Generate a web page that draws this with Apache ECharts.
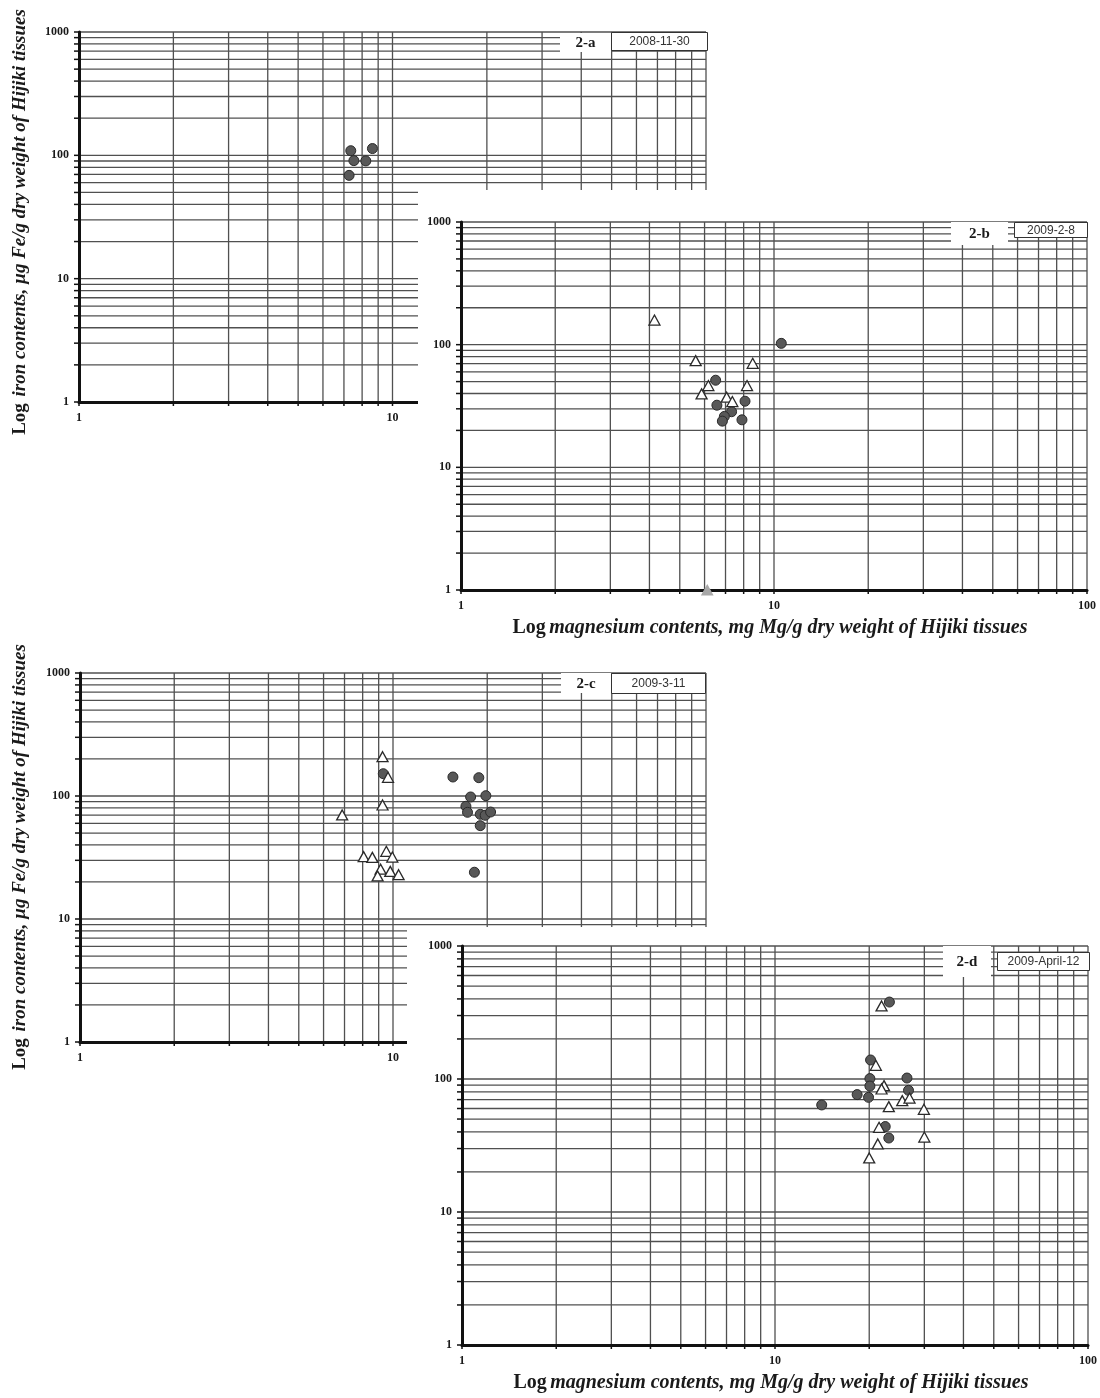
<!DOCTYPE html>
<html><head><meta charset="utf-8">
<script src="https://cdn.jsdelivr.net/npm/echarts@6/dist/echarts.min.js"></script>
<style>html,body{margin:0;padding:0;background:#fff}#c{width:1100px;height:1398px}</style>
</head><body><div id="c"></div>
<script>
// ---- data ----
const xTickLabels = [1, 10, 100];
const yTickLabels = [1, 10, 100, 1000];
const panelIds = ['2-a', '2-b', '2-c', '2-d'];
const panelDates = ['2008-11-30', '2009-2-8', '2009-3-11', '2009-April-12'];
const xTitle = 'magnesium contents, mg Mg/g dry weight of Hijiki tissues';
const yTitle = 'iron contents, \u00b5g Fe/g dry weight of Hijiki tissues';

// [Mg mg/g, Fe ug/g]
const aCircles = [[7.36,109],[8.63,113.5],[7.53,90.6],[8.22,90.1],[7.27,68.8]];
const aTriangles = [];
const aGreyTriangles = [];

const bCircles = [[10.55,102.5],[6.51,51.3],[6.57,32.1],[8.08,34.6],[7.32,28.4],[6.94,26.0],[6.84,23.8],[7.90,24.4]];
const bTriangles = [[4.15,158.8],[5.62,74.1],[8.55,70.5],[6.17,46.4],[5.87,39.7],[8.20,46.4],[7.06,37.3],[7.36,34.4]];
const bGreyTriangles = [[6.12,1]];

const cCircles = [[9.31,151.8],[15.54,142.7],[18.8,140.9],[17.7,98.2],[19.8,100.6],[17.1,82.5],[17.3,73.7],[19.0,71.0],[19.7,69.7],[20.5,74.1],[19.0,57.4],[18.2,24.0]];
const cTriangles = [[9.26,208.7],[9.64,141.8],[9.26,84.5],[6.88,70.1],[8.06,32.1],[8.59,31.7],[9.52,35.5],[9.95,31.9],[9.13,25.4],[8.93,22.4],[9.8,24.4],[10.42,22.9]];
const cGreyTriangles = [];

const dCircles = [[23.2,379],[20.2,139],[20.1,100.7],[20.1,88.5],[26.4,101.7],[26.7,82.2],[18.3,76.3],[19.9,72.8],[14.1,63.8],[22.5,43.9],[23.1,36.0]];
const dTriangles = [[21.9,354],[21.0,126.8],[22.3,89.2],[21.9,84.1],[25.5,68.8],[26.9,71.9],[23.1,62.0],[29.9,59.2],[21.5,43.3],[21.3,32.5],[30.0,36.6],[20.0,25.5]];
const dGreyTriangles = [];

// ---- layout ----
const panels = [
  {grid:{left:79,top:32,width:627,height:370}, z:1,  circles:aCircles, tris:aTriangles, grey:aGreyTriangles,
   idBox:[560,33,51,19], dateBox:[611,32,97,19], xTitle:false},
  {grid:{left:461,top:222,width:626,height:368}, z:10, circles:bCircles, tris:bTriangles, grey:bGreyTriangles,
   idBox:[951,222,57,23], dateBox:[1014,222,74,16], xTitle:true, cover:[418,190,682,420]},
  {grid:{left:80,top:673,width:626,height:369}, z:20, circles:cCircles, tris:cTriangles, grey:cGreyTriangles,
   idBox:[561,673,50,20], dateBox:[611,673,95,21], xTitle:false},
  {grid:{left:462,top:946,width:626,height:399}, z:30, circles:dCircles, tris:dTriangles, grey:dGreyTriangles,
   idBox:[943,946,48,31], dateBox:[997,952,93,19], xTitle:true, cover:[407,927,693,471]}
];

// grid line values for log decades (1..9 x 10^k)
function logLines(maxExp){
  const out=[];
  for(let e=0;e<maxExp;e++){ for(let m=1;m<=9;m++){ out.push(m*Math.pow(10,e)); } }
  out.push(Math.pow(10,maxExp));
  return out;
}
const xLines = logLines(2);
const yLines = logLines(3);

const serif = '"Liberation Serif","Times New Roman",serif';
const grids=[], xAxes=[], yAxes=[], series=[], graphics=[];
const gridColor = '#505050', gridWidth = 1.3;

panels.forEach((p,i)=>{
  const z=p.z;
  if(p.cover){
    graphics.push({type:'rect', z:z-1, shape:{x:p.cover[0],y:p.cover[1],width:p.cover[2],height:p.cover[3]}, style:{fill:'#fff'}, silent:true});
  }
  grids.push(Object.assign({containLabel:false}, p.grid));
  const axCommon = {
    type:'log', logBase:10, gridIndex:i, z:z+2,
    splitLine:{show:false}, axisTick:{show:false}, minorTick:{show:false},
    axisLabel:{fontFamily:serif, fontWeight:'bold', fontSize:12, color:'#1a1a1a', margin:10},
  };
  xAxes.push(Object.assign({}, axCommon, {min:1,max:100, position:'bottom',
    axisLine:{show:true,onZero:false,lineStyle:{color:'#111',width:3}},
    axisLabel:Object.assign({},axCommon.axisLabel,{formatter:v=>xTickLabels.indexOf(Math.round(v))>=0?String(Math.round(v)):''})}));
  yAxes.push(Object.assign({}, axCommon, {min:1,max:1000, position:'left',
    axisLine:{show:true,onZero:false,lineStyle:{color:'#111',width:3}},
    axisLabel:Object.assign({},axCommon.axisLabel,{formatter:v=>yTickLabels.indexOf(Math.round(v))>=0?String(Math.round(v)):''})}));

  // horizontal grid lines (skip the axis at 1)
  series.push({type:'custom', xAxisIndex:i, yAxisIndex:i, z:z, silent:true, clip:false,
    data: yLines.filter(v=>v>1).map(v=>[1,v]),
    renderItem:(params,api)=>{
      const cs=params.coordSys; const pt=api.coord([api.value(0),api.value(1)]);
      return {type:'line', shape:{x1:cs.x,y1:pt[1],x2:cs.x+cs.width,y2:pt[1]}, style:{stroke:gridColor,lineWidth:gridWidth}};
    }});
  // vertical grid lines
  series.push({type:'custom', xAxisIndex:i, yAxisIndex:i, z:z, silent:true, clip:false,
    data: xLines.filter(v=>v>1).map(v=>[v,1]),
    renderItem:(params,api)=>{
      const cs=params.coordSys; const pt=api.coord([api.value(0),api.value(1)]);
      return {type:'line', shape:{x1:pt[0],y1:cs.y,x2:pt[0],y2:cs.y+cs.height}, style:{stroke:gridColor,lineWidth:gridWidth}};
    }});
  // y ticks
  series.push({type:'custom', xAxisIndex:i, yAxisIndex:i, z:z+2, silent:true, clip:false,
    data: yLines.map(v=>[1,v]),
    renderItem:(params,api)=>{
      const pt=api.coord([api.value(0),api.value(1)]);
      return {type:'line', shape:{x1:pt[0]-5,y1:pt[1],x2:pt[0],y2:pt[1]}, style:{stroke:'#111',lineWidth:1.5}};
    }});
  // x ticks
  series.push({type:'custom', xAxisIndex:i, yAxisIndex:i, z:z+2, silent:true, clip:false,
    data: xLines.map(v=>[v,1]),
    renderItem:(params,api)=>{
      const pt=api.coord([api.value(0),api.value(1)]);
      return {type:'line', shape:{x1:pt[0],y1:pt[1],x2:pt[0],y2:pt[1]+4}, style:{stroke:'#111',lineWidth:1.5}};
    }});
  // points
  series.push({type:'scatter', xAxisIndex:i, yAxisIndex:i, z:z+3, data:p.circles, symbol:'circle', symbolSize:10,
    itemStyle:{color:'#585858', borderColor:'#2a2a2a', borderWidth:1, opacity:1}, silent:true});
  series.push({type:'scatter', xAxisIndex:i, yAxisIndex:i, z:z+3, data:p.tris, symbol:'triangle', symbolSize:[11,10],
    itemStyle:{color:'#fff', borderColor:'#2a2a2a', borderWidth:1.3, opacity:1}, silent:true});
  series.push({type:'scatter', xAxisIndex:i, yAxisIndex:i, z:z+3, data:p.grey, symbol:'triangle', symbolSize:[11,10],
    itemStyle:{color:'#a8a8a8', borderColor:'#a8a8a8', borderWidth:1, opacity:1}, silent:true});

  // panel id box
  const ib=p.idBox, db=p.dateBox;
  graphics.push({type:'rect', z:z+4, shape:{x:ib[0],y:ib[1],width:ib[2],height:ib[3]}, style:{fill:'#fff'}, silent:true});
  graphics.push({type:'text', z:z+5, x:ib[0]+ib[2]/2, y:ib[1]+ib[3]/2+1,
    style:{text:panelIds[i], font:'bold 15px '+serif, fill:'#1a1a1a', align:'center', verticalAlign:'middle'}, silent:true});
  graphics.push({type:'rect', z:z+4, shape:{x:db[0]+0.5,y:db[1]+0.5,width:db[2]-1,height:db[3]-1}, style:{fill:'#fff', stroke:'#333', lineWidth:1}, silent:true});
  graphics.push({type:'text', z:z+5, x:db[0]+db[2]/2, y:db[1]+db[3]/2+0.5,
    style:{text:panelDates[i], font:'12px "Liberation Sans","Open Sans",sans-serif', fill:'#333', align:'center', verticalAlign:'middle'}, silent:true});

  if(p.xTitle){
    graphics.push({type:'text', z:z+5, x:p.grid.left+p.grid.width/2-4, y:p.grid.top+p.grid.height+38,
      style:{text:'{a|Log} {b|'+xTitle+'}', align:'center', verticalAlign:'middle',
        rich:{a:{fontFamily:serif,fontWeight:'bold',fontSize:20,fill:'#1a1a1a'}, b:{fontFamily:serif,fontWeight:'bold',fontStyle:'italic',fontSize:20,fill:'#1a1a1a'}}}, silent:true});
  }
});

// y-axis titles (vertical, bottom to top)
[[20,222],[20,857]].forEach((pos,k)=>{
  graphics.push({type:'text', z:50, x:pos[0], y:pos[1], rotation:Math.PI/2,
    style:{text:'{a|Log}  {b|'+yTitle+'}', align:'center', verticalAlign:'middle',
      rich:{a:{fontFamily:serif,fontWeight:'bold',fontSize:19,fill:'#1a1a1a'}, b:{fontFamily:serif,fontWeight:'bold',fontStyle:'italic',fontSize:19,fill:'#1a1a1a'}}}, silent:true});
});

const chart = echarts.init(document.getElementById('c'), null, {renderer:'canvas'});
chart.setOption({
  animation:false, backgroundColor:'#fff',
  grid:grids, xAxis:xAxes, yAxis:yAxes, series:series, graphic:graphics
});
</script></body></html>
